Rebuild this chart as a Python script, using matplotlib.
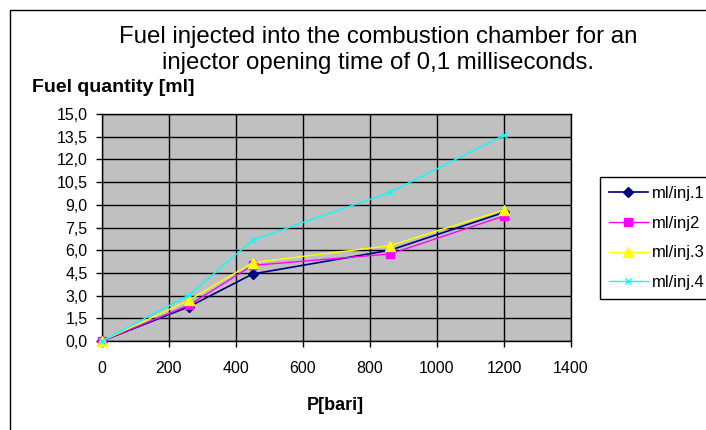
import matplotlib
matplotlib.use("Agg")
import matplotlib.pyplot as plt
from matplotlib.lines import Line2D
import numpy as np

plt.rcParams['font.family'] = ['Liberation Sans', 'DejaVu Sans']

# ---- data ----
pressure = [0, 260, 450, 860, 1200]
inj1 = [0.0, 2.27, 4.43, 6.0, 8.5]
inj2 = [0.0, 2.38, 5.0, 5.75, 8.26]
inj3 = [0.0, 2.7, 5.18, 6.3, 8.66]
inj4 = [0.0, 3.04, 6.67, 9.83, 13.6]
series_names = ["ml/inj.1", "ml/inj2", "ml/inj.3", "ml/inj.4"]
x_ticks = [0, 200, 400, 600, 800, 1000, 1200, 1400]
y_ticks = [0.0, 1.5, 3.0, 4.5, 6.0, 7.5, 9.0, 10.5, 12.0, 13.5, 15.0]
y_tick_labels = ["0,0", "1,5", "3,0", "4,5", "6,0", "7,5", "9,0", "10,5", "12,0", "13,5", "15,0"]
title = "Fuel injected into the combustion chamber for an\ninjector opening time of 0,1 milliseconds."
ylabel = "Fuel quantity [ml]"
xlabel = "P[bari]"

W, H = 706, 430
fig = plt.figure(figsize=(W / 100, H / 100), dpi=100)
fig.patch.set_facecolor('white')

left, right, top, bottom = 102, 571, 114, 341
ax = fig.add_axes([left / W, 1 - bottom / H, (right - left) / W, (bottom - top) / H])
ax.set_facecolor('#C0C0C0')

styles = [
    dict(color='#000080', marker='D', markersize=5, lw=1.2),
    dict(color='#FF00FF', marker='s', markersize=6, lw=1.0),
    dict(color='#FFFF00', marker='^', markersize=7, lw=1.0),
    dict(color='#00FFFF', marker='x', markersize=5, lw=1.0, mew=1.0),
]
series = [inj1, inj2, inj3, inj4]
for vals, name, st in zip(series, series_names, styles):
    ax.plot(pressure, vals, label=name, clip_on=False, zorder=3, **st)

ax.set_xlim(0, 1400)
ax.set_ylim(0, 15)
ax.set_xticks(x_ticks)
ax.set_xticklabels([str(v) for v in x_ticks])
ax.set_yticks(y_ticks)
ax.set_yticklabels(y_tick_labels)
ax.grid(True, color='#000000', lw=1.0)
ax.set_axisbelow(True)
for s in ax.spines.values():
    s.set_color('#000000')
    s.set_linewidth(1.0)
ax.tick_params(axis='both', direction='out', length=4.3, width=1.0, colors='black',
               labelsize=11.5)
ax.tick_params(axis='y', pad=6)
ax.tick_params(axis='x', pad=10)

fig.text(378 / W, 1 - 50 / H, title, ha='center', va='center', fontsize=17.3,
         linespacing=1.2)
fig.text(32 / W, 1 - 88 / H, ylabel, ha='left', va='center', fontsize=14,
         fontweight='bold')
fig.text(335 / W, 1 - 405 / H, xlabel, ha='center', va='center', fontsize=13,
         fontweight='bold')

leg = ax.legend(loc='upper left', bbox_to_anchor=(600 / W, 1 - 177 / H),
                bbox_transform=fig.transFigure, borderaxespad=0, fontsize=12,
                handlelength=2.3, handletextpad=0.25, labelspacing=0.88,
                borderpad=0.55, fancybox=False, framealpha=1, edgecolor='black')
leg.get_frame().set_linewidth(1.0)

# chart area border (top and left visible)
fig.add_artist(Line2D([10 / W, 10 / W, 1.0], [0.0, 1 - 10 / H, 1 - 10 / H],
                      transform=fig.transFigure, color='#000000', lw=1.0))

fig.savefig('out.png', dpi=100)
